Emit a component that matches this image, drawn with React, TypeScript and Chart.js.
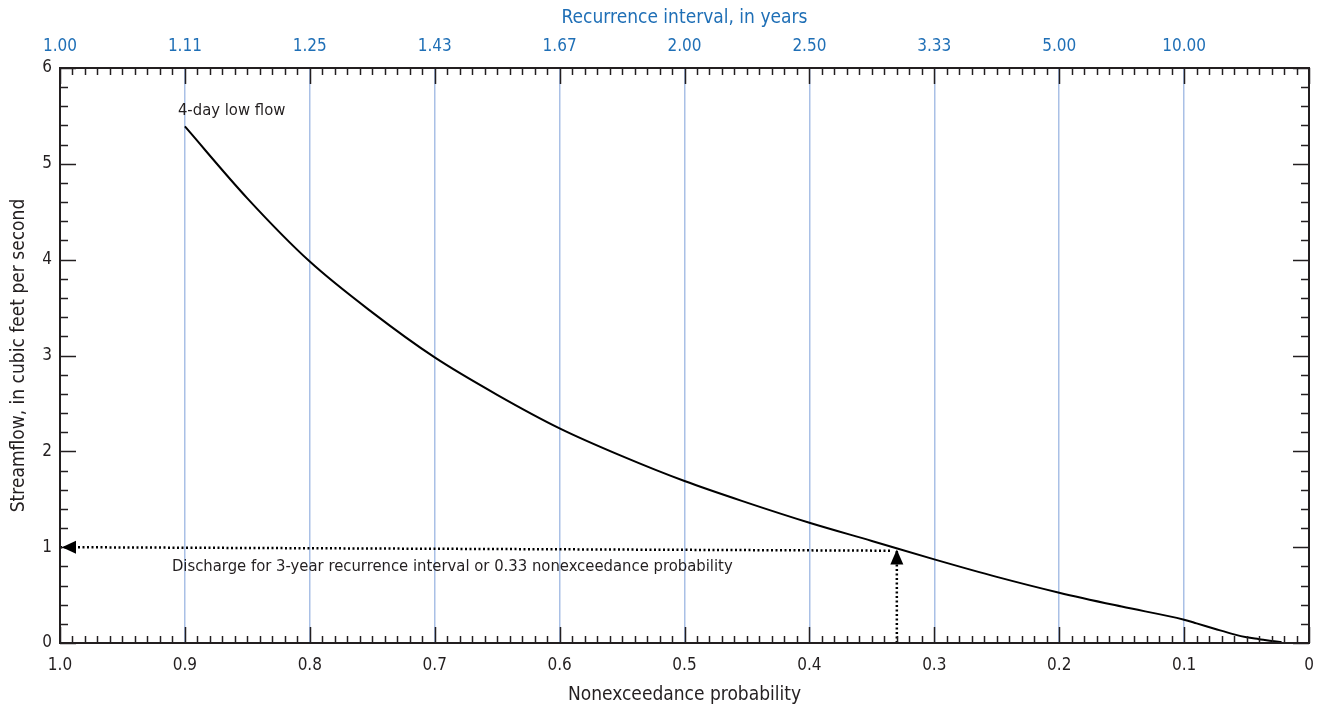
import React, { useEffect, useRef } from "react";
import { Chart, registerables } from "chart.js";

Chart.register(...registerables);

// ---- data ----
const probability = [0.9, 0.85, 0.8, 0.75, 0.7, 0.65, 0.6, 0.55, 0.5, 0.45, 0.4, 0.35, 0.3, 0.25, 0.2, 0.15, 0.1, 0.09, 0.075, 0.06, 0.05, 0.04, 0.03, 0.022];
const streamflow = [5.39, 4.64, 3.98, 3.45, 2.98, 2.59, 2.24, 1.95, 1.69, 1.465, 1.255, 1.065, 0.873, 0.69, 0.525, 0.38, 0.243, 0.205, 0.146, 0.09, 0.06, 0.04, 0.02, 0.01];

const guideHorizX = [1.0, 0.335];
const guideHorizY = [1.0, 0.963];
const guideVertX = [0.33, 0.33];
const guideVertY = [0, 0.975];

const bottomTickLabels = ["0", "0.1", "0.2", "0.3", "0.4", "0.5", "0.6", "0.7", "0.8", "0.9", "1.0"];
const topTickLabels = ["", "10.00", "5.00", "3.33", "2.50", "2.00", "1.67", "1.43", "1.25", "1.11", "1.00"];
const yTickLabels = ["0", "1", "2", "3", "4", "5", "6"];

const curveLabel = "4-day low flow";
const guideLabel = "Discharge for 3-year recurrence interval or 0.33 nonexceedance probability";
const xTitle = "Nonexceedance probability";
const x2Title = "Recurrence interval, in years";
const yTitle = "Streamflow, in cubic feet per second";

const FONT = "'Liberation Sans Narrow', 'DejaVu Sans Condensed', 'Roboto', sans-serif";
const BLUE = "#1f6fb6";
const GRID_BLUE = "#a9c0e6";
const INK = "#231f20";

const framePlugin = {
  id: "frame",
  afterDraw(chart: any) {
    const { ctx, chartArea: a, scales } = chart;
    const x = scales.x;
    const y = scales.y;
    ctx.save();
    ctx.strokeStyle = INK;
    ctx.lineWidth = 1.5;
    const line = (x1: number, y1: number, x2: number, y2: number) => {
      ctx.beginPath();
      ctx.moveTo(x1, y1);
      ctx.lineTo(x2, y2);
      ctx.stroke();
    };
    for (let i = 0; i <= 100; i++) {
      const px = Math.round(x.getPixelForValue(i / 100)) + 0.5;
      const len = i % 10 === 0 ? 16 : 7;
      line(px, a.bottom, px, a.bottom - len);
      line(px, a.top, px, a.top + len);
    }
    for (let i = 0; i <= 30; i++) {
      const py = Math.round(y.getPixelForValue(i * 0.2)) + 0.5;
      const len = i % 5 === 0 ? 16 : 8;
      line(a.left, py, a.left + len, py);
      line(a.right, py, a.right - len, py);
    }
    ctx.lineWidth = 2;
    ctx.strokeRect(a.left, a.top, a.right - a.left, a.bottom - a.top);

    // arrowheads
    ctx.fillStyle = "#000";
    const lx = x.getPixelForValue(guideHorizX[0]) + 2;
    const ly = y.getPixelForValue(guideHorizY[0]);
    ctx.beginPath();
    ctx.moveTo(lx, ly);
    ctx.lineTo(lx + 14, ly - 6.5);
    ctx.lineTo(lx + 14, ly + 6.5);
    ctx.closePath();
    ctx.fill();
    const ux = x.getPixelForValue(guideVertX[1]);
    const uy = y.getPixelForValue(guideVertY[1]);
    ctx.beginPath();
    ctx.moveTo(ux, uy);
    ctx.lineTo(ux - 6.5, uy + 15);
    ctx.lineTo(ux + 6.5, uy + 15);
    ctx.closePath();
    ctx.fill();

    // annotations
    ctx.fillStyle = INK;
    ctx.font = `16.5px ${FONT}`;
    ctx.textBaseline = "middle";
    ctx.textAlign = "left";
    const cx = x.getPixelForValue(probability[0]);
    const cy = y.getPixelForValue(streamflow[0]);
    ctx.fillText(curveLabel, cx - 7, cy - 16);
    const gx = x.getPixelForValue(0.9);
    const gy = y.getPixelForValue(guideHorizY[0]);
    ctx.fillText(guideLabel, gx - 13, gy + 20);
    ctx.restore();
  },
};

export default function App() {
  const ref = useRef<HTMLCanvasElement>(null);
  useEffect(() => {
    document.body.style.margin = "0";
    const canvas = ref.current!;
    const chart = new Chart(canvas, {
      type: "line",
      data: {
        datasets: [
          {
            data: probability.map((p, i) => ({ x: p, y: streamflow[i] })),
            borderColor: "#000",
            borderWidth: 2,
            pointRadius: 0,
            cubicInterpolationMode: "monotone",
            xAxisID: "x",
            yAxisID: "y",
          },
          {
            data: guideHorizX.map((p, i) => ({ x: p, y: guideHorizY[i] })),
            borderColor: "#000",
            borderWidth: 2.5,
            borderDash: [2, 2.5],
            pointRadius: 0,
            xAxisID: "x",
            yAxisID: "y",
          },
          {
            data: guideVertX.map((p, i) => ({ x: p, y: guideVertY[i] })),
            borderColor: "#000",
            borderWidth: 2.5,
            borderDash: [2, 2.5],
            pointRadius: 0,
            xAxisID: "x",
            yAxisID: "y",
          },
        ],
      },
      options: {
        animation: false,
        responsive: false,
        layout: { padding: 0, autoPadding: false },
        plugins: { legend: { display: false }, tooltip: { enabled: false } },
        scales: {
          x: {
            type: "linear",
            position: "bottom",
            min: 0,
            max: 1,
            reverse: true,
            afterFit: (s: any) => {
              s.height = 65;
              s.paddingLeft = 0;
              s.paddingRight = 0;
            },
            ticks: {
              stepSize: 0.1,
              padding: 12,
              color: INK,
              font: { family: FONT, size: 17 },
              maxRotation: 0,
              autoSkip: false,
              callback: (v: any) => bottomTickLabels[Math.round(Number(v) * 10)],
            },
            grid: {
              drawTicks: false,
              color: (c: any) => {
                const v = Math.round((c.tick?.value ?? 0) * 10);
                return v === 0 || v === 10 ? "rgba(0,0,0,0)" : GRID_BLUE;
              },
              lineWidth: 1.5,
            },
            border: { display: false },
            title: {
              display: true,
              text: xTitle,
              color: INK,
              font: { family: FONT, size: 19 },
              padding: { top: 0, bottom: 2 },
            },
          },
          x2: {
            type: "linear",
            position: "top",
            min: 0,
            max: 1,
            reverse: true,
            afterFit: (s: any) => {
              s.height = 68;
              s.paddingLeft = 0;
              s.paddingRight = 0;
            },
            ticks: {
              stepSize: 0.1,
              padding: 11,
              color: BLUE,
              font: { family: FONT, size: 17 },
              maxRotation: 0,
              autoSkip: false,
              callback: (v: any) => topTickLabels[Math.round(Number(v) * 10)],
            },
            grid: { display: false, drawTicks: false },
            border: { display: false },
            title: {
              display: true,
              text: x2Title,
              color: BLUE,
              font: { family: FONT, size: 19 },
              padding: { top: 7, bottom: 0 },
            },
          },
          y: {
            type: "linear",
            position: "left",
            min: 0,
            max: 6,
            afterFit: (s: any) => {
              s.width = 60;
              s.paddingTop = 0;
              s.paddingBottom = 0;
            },
            ticks: {
              stepSize: 1,
              padding: 8,
              color: INK,
              font: { family: FONT, size: 17 },
              callback: (v: any) => yTickLabels[Math.round(Number(v))],
            },
            grid: { display: false, drawTicks: false },
            border: { display: false },
            title: {
              display: true,
              text: yTitle,
              color: INK,
              font: { family: FONT, size: 19 },
              padding: { top: 8, bottom: 0 },
            },
          },
          y2: {
            type: "linear",
            position: "right",
            min: 0,
            max: 6,
            afterFit: (s: any) => {
              s.width = 8;
            },
            ticks: { display: false },
            grid: { display: false, drawTicks: false },
            border: { display: false },
          },
        },
      },
      plugins: [framePlugin],
    } as any);
    return () => chart.destroy();
  }, []);
  return (
    <div style={{ position: "fixed", left: 0, top: 0, width: 1317, height: 708, background: "#fff" }}>
      <canvas ref={ref} width={1317} height={708} style={{ width: 1317, height: 708, display: "block" }} />
    </div>
  );
}
